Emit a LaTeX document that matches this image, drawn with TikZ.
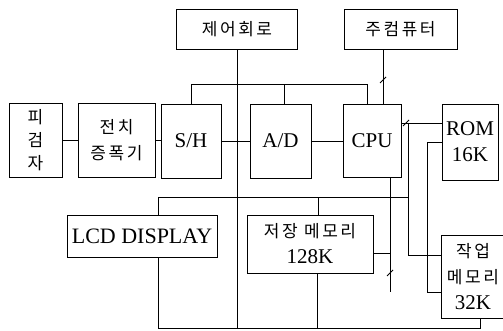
\documentclass[tikz,border=0pt]{standalone}
\usepackage{fontspec}
\setmainfont{Liberation Serif}
\newfontfamily\krfont[LetterSpace=15]{Noto Sans CJK KR}
\usetikzlibrary{calc}
\newcommand{\kr}[1]{{\krfont\fontsize{17}{26}\selectfont #1}}

\begin{document}
\begin{tikzpicture}[x=1pt, y=-1pt,
  blk/.style 2 args={draw, line width=0.9pt, inner sep=0pt, align=center,
              font=\fontsize{21}{26}\selectfont,
              minimum width=#1, minimum height=#2},
  wire/.style={line width=0.8pt},
]
\useasboundingbox (0,0) rectangle (503,331);

\node[blk={53}{74}, font=\fontsize{17}{23}\selectfont] (subj) at (35.5,140) {\kr{피}\\\kr{검}\\\kr{자}};
\node[blk={77}{74}]  (preamp) at (116.5,140) {\kr{전치}\\\kr{증폭기}};
\node[blk={60}{74}]  (sh)     at (191,141)   {S/H};
\node[blk={61}{74}]  (adc)    at (280.5,141) {A/D};
\node[blk={58}{73}]  (cpu)    at (372,140.5) {CPU};
\node[blk={56}{76}]  (rom)    at (470,142)   {ROM\\16K};
\node[blk={121}{40}] (ctrl)   at (237,29)    {\kr{제어회로}};
\node[blk={113}{40}] (host)   at (400.5,29)  {\kr{주컴퓨터}};
\node[blk={150}{42}, font=\fontsize{22}{26}\selectfont] (lcd) at (142,236) {LCD DISPLAY};
\node[blk={126}{58}] (store)  at (310,244)   {\kr{저장 메모리}\\128K};
\node[blk={64}{83}]  (work)   at (473,276.5) {\kr{작업}\\\kr{메모리}\\32K};

% bus corners
\coordinate (busT) at (367,84);
\coordinate (busM) at (408,197);
\coordinate (busB) at (480,328);
\coordinate (tapA) at (408,123);
\coordinate (tapB) at (427,142);
\coordinate (tapC) at (390,292);

% signal chain
\draw[wire] (subj.east) -- (preamp.west);
\draw[wire] (preamp.east) -- (preamp.east -| sh.west);
\draw[wire] (sh.east) -- (adc.west);
\draw[wire] (adc.east) -- (adc.east -| cpu.west);

% control and host
\draw[wire] (ctrl.south) -- (ctrl.south |- busB);
\draw[wire] (sh.north) |- (busT) -- (busT |- cpu.north);
\draw[wire] ([xshift=3.5pt]adc.north) -- ([xshift=3.5pt]adc.north |- busT);
\draw[wire] ([xshift=11pt]cpu.north) -- ([xshift=11pt]cpu.north |- host.south);

% memory side
\draw[wire] ([yshift=19pt]rom.west) -- (tapA -| cpu.east);
\draw[wire] (tapA) |- ([yshift=21.5pt]work.west);
\draw[wire] (rom.west) -| (tapB |- tapC) -- ([yshift=-15.5pt]work.west);
\draw[wire] (cpu.south -| tapC) -- (tapC);
\draw[wire] ([yshift=-9pt]store.east) -- ([yshift=-9pt]store.east -| tapC);
\draw[wire] ([xshift=16pt]lcd.north) |- (busM);
\draw[wire] ([xshift=8pt]store.north) -- ([xshift=8pt]store.north |- busM);
\draw[wire] ([xshift=16pt]lcd.south) |- (busB) -- (busB |- work.south);
\draw[wire] ([xshift=7pt]store.south) -- ([xshift=7pt]store.south |- busB);

\foreach \p in {(383,80),(406,123),(390,273)}
  \draw[wire] \p ++(-3,3) -- ++(6,-6);
\end{tikzpicture}
\end{document}
